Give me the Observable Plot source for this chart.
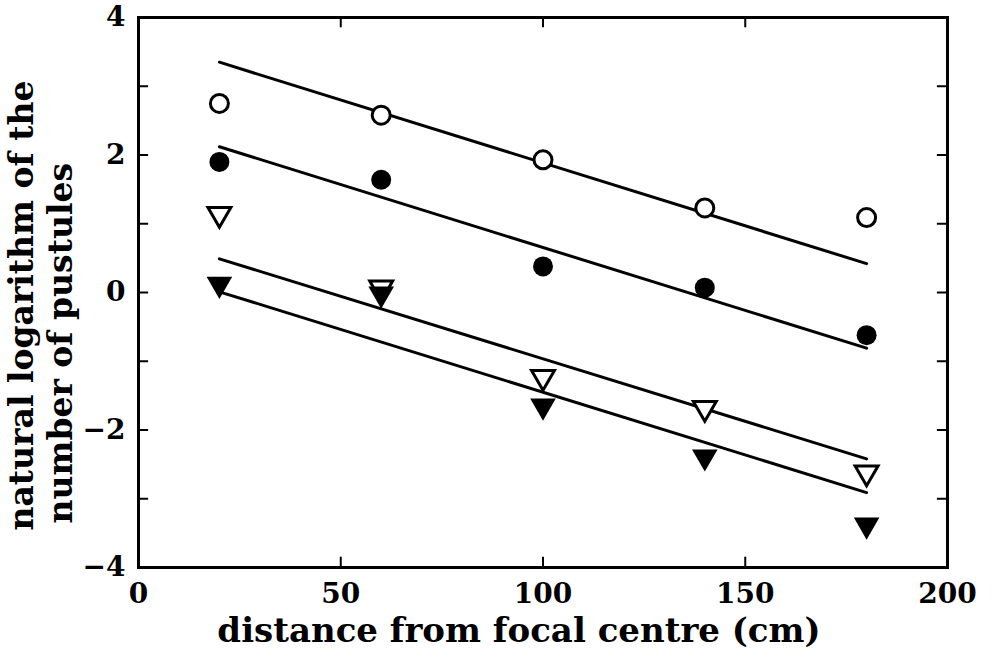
<!DOCTYPE html>
<html>
<head>
<meta charset="utf-8">
<script src="https://cdn.jsdelivr.net/npm/d3@7"></script>
<script src="https://cdn.jsdelivr.net/npm/@observablehq/plot@0.6"></script>
<style>
  html, body { margin: 0; padding: 0; background: #fff; }
  svg { display: block; }
</style>
</head>
<body>
<div id="chart"></div>
<script>
const distances = [20, 60, 100, 140, 180];
const openCircle = [2.75, 2.58, 1.93, 1.23, 1.09];
const filledCircle = [1.90, 1.64, 0.38, 0.07, -0.62];
const openTriangle = [1.14, 0.07, -1.23, -1.68, -2.62];
const filledTriangle = [0.12, -0.02, -1.65, -2.39, -3.38];

const fitX = [20, 180];
const fitOpenCircle = [3.35, 0.42];
const fitFilledCircle = [2.12, -0.81];
const fitOpenTriangle = [0.49, -2.42];
const fitFilledTriangle = [0.01, -2.91];

const xTicks = [0, 50, 100, 150, 200];
const yTickLabels = [-4, -2, 0, 2, 4];
const yMinorTicks = [-3, -2, -1, 0, 1, 2, 3];
const xMinorTicks = [50, 100, 150];

const xLabel = "distance from focal centre (cm)";
const yLabelLine1 = "natural logarithm of the";
const yLabelLine2 = "number of pustules";

const pts = (ys) => distances.map((d, i) => ({x: d, y: ys[i]}));
const fit = (ys) => fitX.map((d, i) => ({x: d, y: ys[i]}));

const font = "'DejaVu Serif', serif";

const chart = Plot.plot({
  width: 992,
  height: 660,
  marginLeft: 138,
  marginRight: 45,
  marginTop: 17,
  marginBottom: 93,
  style: {fontFamily: font, fontWeight: "bold", fontSize: "28px", color: "#000", background: "#fff"},
  x: {domain: [0, 200]},
  y: {domain: [-4, 4]},
  marks: [
    Plot.axisX({ticks: xTicks, tickSize: 0, tickPadding: 16, tickFormat: d => String(d), fontSize: 28, fontWeight: "bold", label: null}),
    Plot.axisY({ticks: yTickLabels, tickSize: 0, tickPadding: 13, tickFormat: d => d < 0 ? "\u2212" + Math.abs(d) : String(d), fontSize: 28, fontWeight: "bold", label: null}),
    Plot.ruleY(yMinorTicks, {x1: 0, x2: 2.5, stroke: "#000", strokeWidth: 2}),
    Plot.ruleY(yMinorTicks, {x1: 197.5, x2: 200, stroke: "#000", strokeWidth: 2}),
    Plot.ruleX(xMinorTicks, {y1: -4, y2: -3.85, stroke: "#000", strokeWidth: 2}),
    Plot.ruleX(xMinorTicks, {y1: 4, y2: 3.85, stroke: "#000", strokeWidth: 2}),
    Plot.frame({stroke: "#000", strokeWidth: 3}),
    Plot.line(fit(fitOpenCircle), {x: "x", y: "y", stroke: "#000", strokeWidth: 3}),
    Plot.line(fit(fitFilledCircle), {x: "x", y: "y", stroke: "#000", strokeWidth: 3}),
    Plot.line(fit(fitOpenTriangle), {x: "x", y: "y", stroke: "#000", strokeWidth: 3}),
    Plot.line(fit(fitFilledTriangle), {x: "x", y: "y", stroke: "#000", strokeWidth: 3}),
    Plot.dot(pts(openCircle), {x: "x", y: "y", r: 9, fill: "#fff", stroke: "#000", strokeWidth: 3}),
    Plot.dot(pts(filledCircle), {x: "x", y: "y", r: 10, fill: "#000", stroke: "none"}),
    Plot.dot(pts(openTriangle), {x: "x", y: "y", symbol: "triangle", rotate: 180, r: 8.5, fill: "#fff", stroke: "#000", strokeWidth: 3}),
    Plot.dot(pts(filledTriangle), {x: "x", y: "y", symbol: "triangle", rotate: 180, r: 9.5, fill: "#000", stroke: "none"}),
    Plot.text([xLabel], {frameAnchor: "bottom", dx: -24, dy: 74, fontSize: 34, fontWeight: "bold", fill: "#000"}),
    Plot.text([yLabelLine1], {frameAnchor: "left", textAnchor: "start", dx: -116, dy: 238, rotate: -90, fontSize: 33, fontWeight: "bold", fill: "#000"}),
    Plot.text([yLabelLine2], {frameAnchor: "left", textAnchor: "start", dx: -77, dy: 231, rotate: -90, fontSize: 33, fontWeight: "bold", fill: "#000"})
  ]
});
document.getElementById("chart").appendChild(chart);
</script>
</body>
</html>
